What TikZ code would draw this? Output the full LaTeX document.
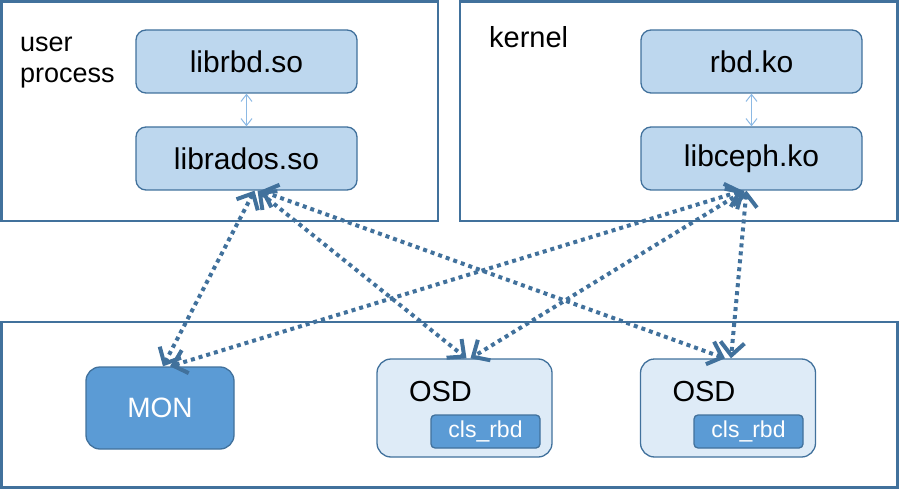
\documentclass[tikz,border=0pt]{standalone}
\usepackage{fontspec}
\setmainfont{Liberation Sans}
\usetikzlibrary{arrows.meta}

\definecolor{frame}{RGB}{65,113,156}
\definecolor{modfill}{RGB}{189,215,238}
\definecolor{osdfill}{RGB}{222,235,247}
\definecolor{monfill}{RGB}{91,155,213}
\definecolor{thinlink}{RGB}{140,185,228}

\begin{document}
\begin{tikzpicture}[x=1pt,y=-1pt,
    area/.style={draw=frame, line width=2.5pt},
    module/.style={draw=frame, fill=modfill, line width=1.3pt, rounded corners=10pt,
        minimum width=221pt, minimum height=63pt, font=\fontsize{30}{34}\selectfont},
    daemon/.style={draw=frame, line width=1.3pt, rounded corners=14pt,
        minimum width=175pt, minimum height=98pt},
    cls/.style={draw=frame, fill=monfill, line width=1.3pt, rounded corners=4pt,
        minimum width=109pt, minimum height=33pt, text=white, font=\fontsize{23}{27}\selectfont},
    tag/.style={font=\fontsize{29}{34}\selectfont, inner sep=0pt},
    link/.style={frame, line width=4pt, dash pattern=on 4pt off 4pt,
        {Straight Barb[length=13pt,width=24pt]}-{Straight Barb[length=13pt,width=24pt]}},
    call/.style={thinlink, line width=1pt,
        {Straight Barb[length=7pt,width=11pt]}-{Straight Barb[length=7pt,width=11pt]}}]
    \useasboundingbox (0,0) rectangle (899,489);

    \draw[area] (1.5,1.5) rectangle (438,221);
    \draw[area] (460,1.5) rectangle (897.5,221);
    \draw[area] (1.5,322) rectangle (897.5,487.5);

    \node[tag, font=\fontsize{27}{31}\selectfont, align=left, anchor=west] (user) at (20,63) {user\\process};
    \node[tag, anchor=base west] (kern) at (489,48) {kernel};

    \node[module] (librbd) at (246.5,61.5) {librbd.so};
    \node[module] (librados) at (246.5,158.5) {librados.so};
    \node[module] (rbdko) at (751.5,61.5) {rbd.ko};
    \node[module] (libceph) at (751.5,158.5) {libceph.ko};

    \node[daemon, fill=monfill, minimum width=148pt, minimum height=82pt, text=white,
        font=\fontsize{28}{32}\selectfont] (mon) at (160,408) {MON};
    \node[daemon, fill=osdfill] (osdA) at (464.5,408) {};
    \node[daemon, fill=osdfill] (osdB) at (728,408) {};
    \node[tag] (osdAtxt) at (440.5,392) {OSD};
    \node[tag] (osdBtxt) at (704,392) {OSD};
    \node[cls] (clsA) at (485.5,431.5) {cls\_rbd};
    \node[cls] (clsB) at (748.5,431.5) {cls\_rbd};

    \draw[call] (librbd) -- (librados);
    \draw[call] (rbdko) -- (libceph);

    \draw[link] ([xshift=8pt]librados.south) -- ([xshift=3pt]mon.north);
    \draw[link] ([xshift=11pt]librados.south) -- ([xshift=2pt]osdA.north);
    \draw[link] ([xshift=14pt]librados.south) -- ([xshift=-3pt]osdB.north);
    \draw[link] ([xshift=-9pt]libceph.south) -- ([xshift=10pt]mon.north);
    \draw[link] ([xshift=-7pt]libceph.south) -- ([xshift=6pt]osdA.north);
    \draw[link] ([xshift=-5pt]libceph.south) -- ([xshift=3pt]osdB.north);
\end{tikzpicture}
\end{document}
